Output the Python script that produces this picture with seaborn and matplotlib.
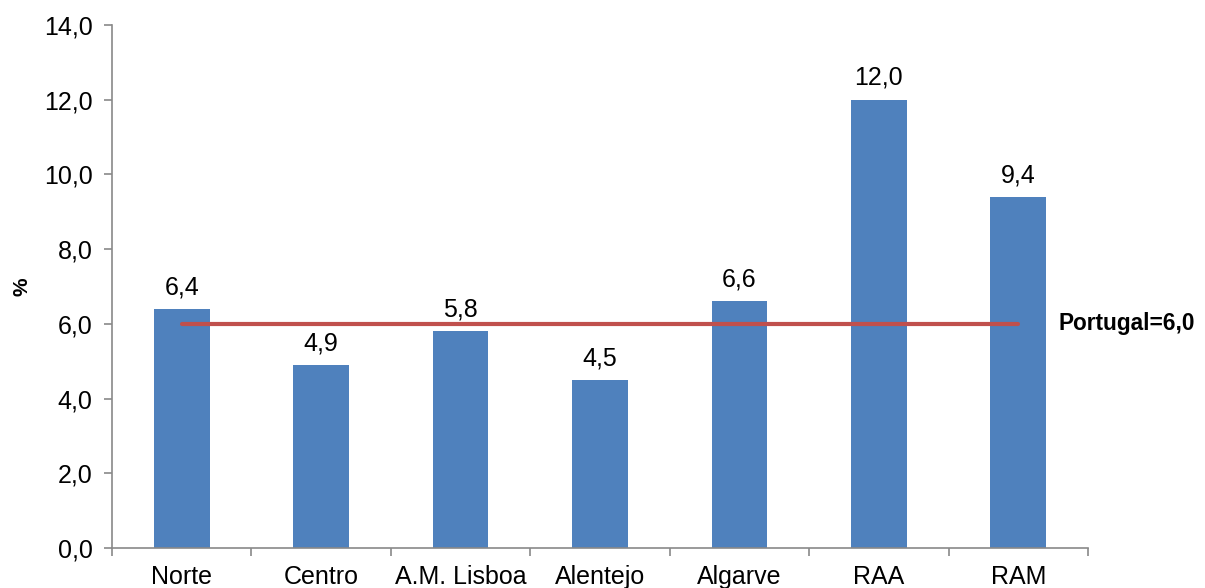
import matplotlib
matplotlib.use("Agg")
import matplotlib.pyplot as plt
import seaborn as sns
import pandas as pd

regions = ["Norte", "Centro", "A.M. Lisboa", "Alentejo", "Algarve", "RAA", "RAM"]
rates = [6.4, 4.9, 5.8, 4.5, 6.6, 12.0, 9.4]
national_rate = 6.0
national_label = "Portugal=6,0"

sns.set_style("white")
plt.rcParams["font.family"] = ["Liberation Sans", "DejaVu Sans"]
plt.rcParams["text.color"] = "black"
plt.rcParams["xtick.color"] = "black"
plt.rcParams["ytick.color"] = "black"
plt.rcParams["axes.labelcolor"] = "black"

FS = 18

df = pd.DataFrame({"region": regions, "rate": rates})

fig = plt.figure(figsize=(12.05, 5.88), dpi=100)
ax = fig.add_axes([0.0929, 0.068, 0.81, 0.8895])

sns.barplot(data=df, x="region", y="rate", color="#4F81BD", saturation=1,
            width=0.40, linewidth=0, ax=ax)

# national reference line from first to last category
ax.plot([0, len(regions) - 1], [national_rate, national_rate],
        color="#C0504D", lw=3.0, solid_capstyle="round", zorder=3)
ax.text(len(regions) - 1 + 0.29, national_rate, national_label,
        fontsize=16.3, fontweight="bold", va="center", ha="left")

for i, v in enumerate(rates):
    ax.annotate(f"{v:.1f}".replace(".", ","), (i, v), xytext=(0, 7),
                textcoords="offset points", ha="center", va="bottom",
                fontsize=FS)

ax.set_xlim(-0.5, len(regions) - 0.5)
ax.set_ylim(0, 14)
yt = [0, 2, 4, 6, 8, 10, 12, 14]
ax.set_yticks(yt)
ax.set_yticklabels([f"{t:.1f}".replace(".", ",") for t in yt], fontsize=FS)
ax.set_xticks(range(len(regions)))
ax.set_xticklabels(regions, fontsize=FS)
ax.set_xticks([i - 0.5 for i in range(len(regions) + 1)], minor=True)

ax.set_xlabel("")
ax.set_ylabel("%", fontsize=15, fontweight="bold")
ax.yaxis.set_label_coords(-0.082, 0.5)

for s in ["top", "right"]:
    ax.spines[s].set_visible(False)
for s in ["left", "bottom"]:
    ax.spines[s].set_color("#898989")
    ax.spines[s].set_linewidth(1.2)

ax.tick_params(axis="y", which="major", length=6, color="#898989", width=1.2,
               direction="out", left=True, pad=8)
ax.tick_params(axis="x", which="major", length=0, pad=12)
ax.tick_params(axis="x", which="minor", length=6, color="#898989", width=1.2,
               direction="out", bottom=True)

fig.savefig("out.png", dpi=100)
